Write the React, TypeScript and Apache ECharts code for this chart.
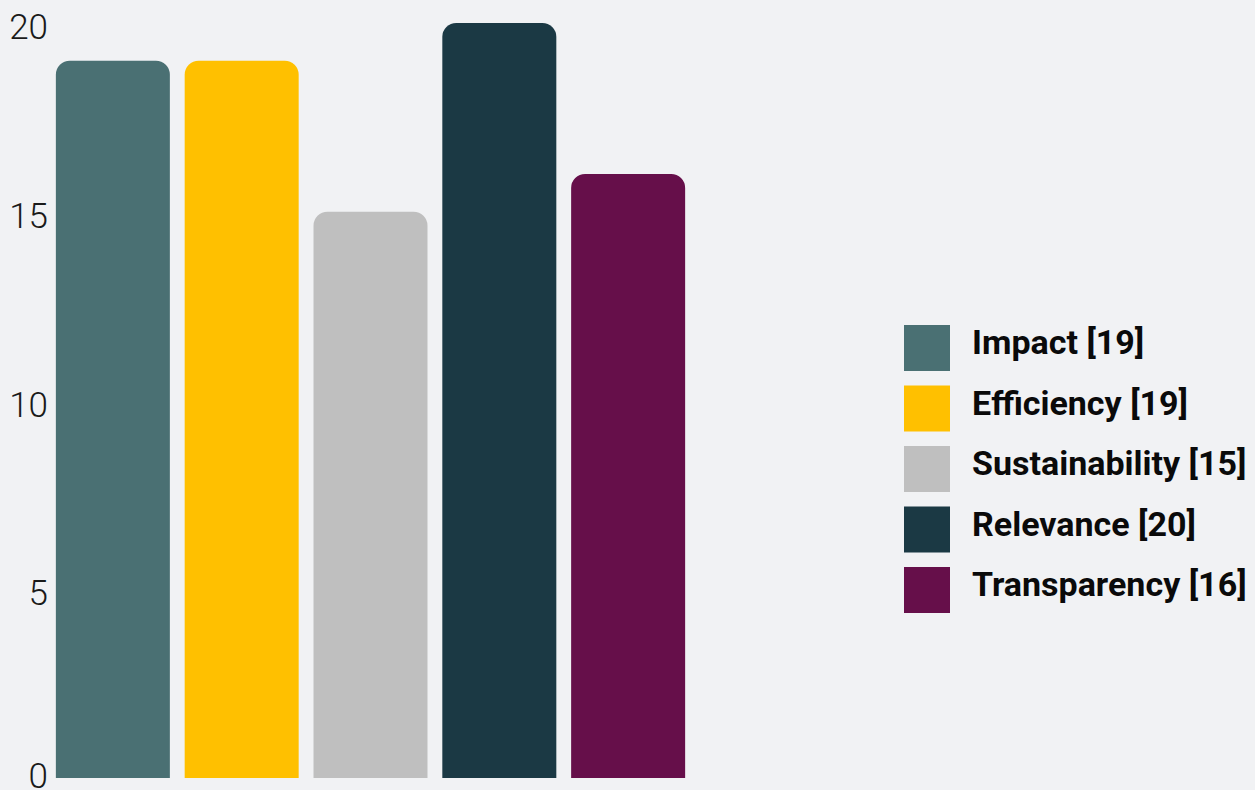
import React, { useEffect, useRef } from "react";
import * as echarts from "echarts";

const seriesNames = ["Impact", "Efficiency", "Sustainability", "Relevance", "Transparency"];
const seriesValues = [19, 19, 15, 20, 16];
const seriesColors = ["#4a7073", "#ffc000", "#bfbfbf", "#1b3944", "#660f4a"];
const yTicks = [0, 5, 10, 15, 20];

export default function App() {
  const ref = useRef<HTMLDivElement>(null);
  useEffect(() => {
    if (!ref.current) return;
    const chart = echarts.init(ref.current, null, { renderer: "svg" });
    const valueByName: Record<string, number> = {};
    seriesNames.forEach((n, i) => (valueByName[n] = seriesValues[i]));
    const tickFont = {
      fontFamily: "Roboto",
      fontWeight: 300,
      fontSize: 35,
      color: "#1a1a1a",
    };
    chart.setOption({
      animation: false,
      backgroundColor: "#f1f2f4",
      grid: {
        left: 50,
        right: 564,
        top: 23,
        bottom: 12,
        containLabel: false,
        outerBoundsMode: "none",
      },
      xAxis: {
        type: "category",
        data: [""],
        axisLine: { show: false },
        axisTick: { show: false },
        axisLabel: { show: false },
      },
      yAxis: {
        type: "value",
        min: yTicks[0],
        max: yTicks[yTicks.length - 1],
        interval: 5,
        axisLine: { show: false },
        axisTick: { show: false },
        splitLine: { show: false },
        axisLabel: {
          margin: 2,
          ...tickFont,
          formatter: (v: number) => (v === yTicks[0] ? `{z|${v}}` : `{n|${v}}`),
          rich: {
            n: { ...tickFont, padding: [9, 0, 0, 0] },
            z: { ...tickFont, padding: [0, 0, 4, 0] },
          },
        },
      },
      legend: {
        orient: "vertical",
        left: 904,
        top: 325,
        padding: 0,
        itemWidth: 46,
        itemHeight: 46,
        itemGap: 14.5,
        icon: "rect",
        data: seriesNames,
        formatter: (name: string) => `{t|${name} [${valueByName[name]}]}`,
        textStyle: {
          fontFamily: "Roboto",
          fontWeight: 700,
          fontSize: 34,
          color: "#0a0a0a",
          padding: [0, 0, 0, 17],
          rich: {
            t: {
              fontFamily: "Roboto",
              fontWeight: 700,
              fontSize: 34,
              color: "#0a0a0a",
              padding: [0, 0, 12, 0],
            },
          },
        },
      },
      series: seriesNames.map((name, i) => ({
        name,
        type: "bar",
        data: [seriesValues[i]],
        barWidth: 114,
        barGap: "13%",
        itemStyle: { color: seriesColors[i], borderRadius: [14, 14, 0, 0] },
      })),
    });
    return () => chart.dispose();
  }, []);
  return (
    <div
      ref={ref}
      style={{ position: "fixed", left: 0, top: 0, width: 1255, height: 790 }}
    />
  );
}
